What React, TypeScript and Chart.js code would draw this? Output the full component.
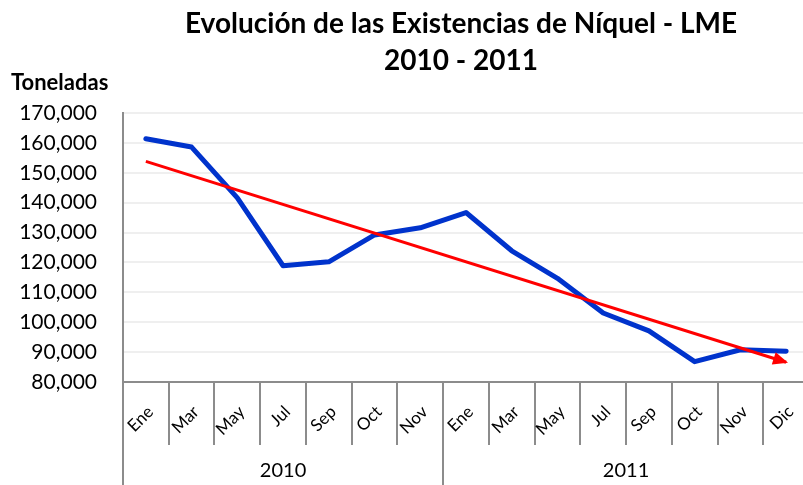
import React, { useEffect, useRef } from 'react';
import { Chart, registerables } from 'chart.js';

Chart.register(...registerables);

const titleLines = ['Evolución de las Existencias de Níquel - LME', '2010 - 2011'];
const yAxisTitle = 'Toneladas';
const months = ['Ene', 'Mar', 'May', 'Jul', 'Sep', 'Oct', 'Nov', 'Ene', 'Mar', 'May', 'Jul', 'Sep', 'Oct', 'Nov', 'Dic'];
const years = ['2010', '2011'];
const yearSpans = [7, 8];
const stocks = [161400, 158600, 141600, 118900, 120200, 129200, 131600, 136700, 123900, 114700, 103100, 97100, 86800, 90800, 90300];
const trendEnds = [153800, 86600];
const yTicks = [80000, 90000, 100000, 110000, 120000, 130000, 140000, 150000, 160000, 170000];

const FONT = 'Lato';
const AXIS_GRAY = '#8c8c8c';

const trendData: (number | null)[] = months.map((_, i) =>
  i === 0 ? trendEnds[0] : i === months.length - 1 ? trendEnds[1] : null
);

const decorPlugin = {
  id: 'decor',
  afterDatasetsDraw(chart: any) {
    const ctx = chart.ctx;
    const meta = chart.getDatasetMeta(0);
    const p0 = meta.data[0];
    const p1 = meta.data[months.length - 1];
    if (p0 && p1) {
      const ang = Math.atan2(p1.y - p0.y, p1.x - p0.x);
      const dx = Math.cos(ang);
      const dy = Math.sin(ang);
      const tipX = p1.x + dx * 2;
      const tipY = p1.y + dy * 2;
      const len = 15;
      const hw = 6.5;
      const bx = tipX - dx * len;
      const by = tipY - dy * len;
      ctx.save();
      ctx.fillStyle = '#ff0000';
      ctx.beginPath();
      ctx.moveTo(tipX, tipY);
      ctx.lineTo(bx - dy * hw, by + dx * hw);
      ctx.lineTo(bx + dy * hw, by - dx * hw);
      ctx.closePath();
      ctx.fill();
      ctx.restore();
    }
  },
  afterDraw(chart: any) {
    const ctx = chart.ctx;
    const xs = chart.scales.x;
    const area = chart.chartArea;
    const n = months.length;
    const w = xs.getPixelForValue(1) - xs.getPixelForValue(0);
    const start = xs.getPixelForValue(0) - w / 2;
    const boundaries = new Set<number>([0]);
    let acc = 0;
    yearSpans.forEach((s) => {
      acc += s;
      boundaries.add(acc);
    });
    ctx.save();
    ctx.strokeStyle = AXIS_GRAY;
    ctx.lineWidth = 2;
    for (let i = 0; i <= n; i++) {
      const x = Math.round(start + i * w);
      const yEnd = boundaries.has(i) ? chart.height : area.bottom + 63;
      ctx.beginPath();
      ctx.moveTo(x, area.bottom);
      ctx.lineTo(x, yEnd);
      ctx.stroke();
    }
    // rotated month labels
    ctx.fillStyle = '#000';
    ctx.font = `17px ${FONT}`;
    ctx.textAlign = 'right';
    ctx.textBaseline = 'middle';
    months.forEach((m, i) => {
      const cx = xs.getPixelForValue(i) + 4.5;
      const cy = area.bottom + 27;
      ctx.save();
      ctx.translate(cx, cy);
      ctx.rotate(-Math.PI / 4);
      ctx.fillText(m, 0, 0);
      ctx.restore();
    });
    // year labels
    ctx.font = `20px ${FONT}`;
    ctx.textAlign = 'center';
    ctx.textBaseline = 'middle';
    let s0 = 0;
    years.forEach((yr, k) => {
      const a = xs.getPixelForValue(s0);
      const b = xs.getPixelForValue(s0 + yearSpans[k] - 1);
      ctx.fillText(yr, (a + b) / 2, area.bottom + 89);
      s0 += yearSpans[k];
    });
    ctx.font = `bold 28px ${FONT}`;
    ctx.textBaseline = 'alphabetic';
    ctx.fillText(titleLines[0], 461, 33);
    ctx.fillText(titleLines[1], 461, 69.5);
    ctx.textAlign = 'left';
    ctx.font = `bold 22px ${FONT}`;
    ctx.fillText(yAxisTitle, 11, 90);
    ctx.restore();
  },
};

export default function App() {
  const ref = useRef<HTMLCanvasElement | null>(null);
  useEffect(() => {
    if (!ref.current) return;
    const chart = new Chart(ref.current, {
      type: 'line',
      data: {
        labels: months,
        datasets: [
          {
            label: 'Tendencia',
            data: trendData,
            borderColor: '#ff0000',
            borderWidth: 3,
            pointRadius: 0,
            spanGaps: true,
            tension: 0,
          },
          {
            label: 'Existencias',
            data: stocks,
            borderColor: '#0033cc',
            borderWidth: 5,
            pointRadius: 0,
            tension: 0,
            borderJoinStyle: 'round',
            borderCapStyle: 'round',
          },
        ],
      },
      options: {
        responsive: false,
        animation: false,
        layout: { padding: { top: 113, left: 0, right: 0, bottom: 0 } },
        plugins: {
          legend: { display: false },
          title: { display: false },
          tooltip: { enabled: false },
        },
        scales: {
          x: {
            offset: true,
            grid: { display: false, drawTicks: false },
            border: { display: true, color: AXIS_GRAY, width: 2 },
            ticks: { display: false },
            afterFit: (s: any) => {
              s.height = 103;
              s.paddingLeft = 0;
              s.paddingRight = 0;
            },
          },
          y: {
            min: yTicks[0],
            max: yTicks[yTicks.length - 1],
            grid: { color: '#efefef', lineWidth: 2, drawTicks: false },
            border: { display: true, color: AXIS_GRAY, width: 2 },
            ticks: {
              stepSize: yTicks[1] - yTicks[0],
              padding: 26,
              color: '#000',
              font: { family: FONT, size: 21 },
              callback: (v: any) => Number(v).toLocaleString('en-US'),
            },
            afterFit: (s: any) => {
              s.width = 123;
            },
          },
        },
      },
      plugins: [decorPlugin],
    });
    return () => chart.destroy();
  }, []);
  return (
    <div style={{ position: 'absolute', left: 0, top: 0, width: 803, height: 485, overflow: 'hidden', background: '#fff' }}>
      <canvas ref={ref} width={809} height={485} style={{ display: 'block' }} />
    </div>
  );
}
